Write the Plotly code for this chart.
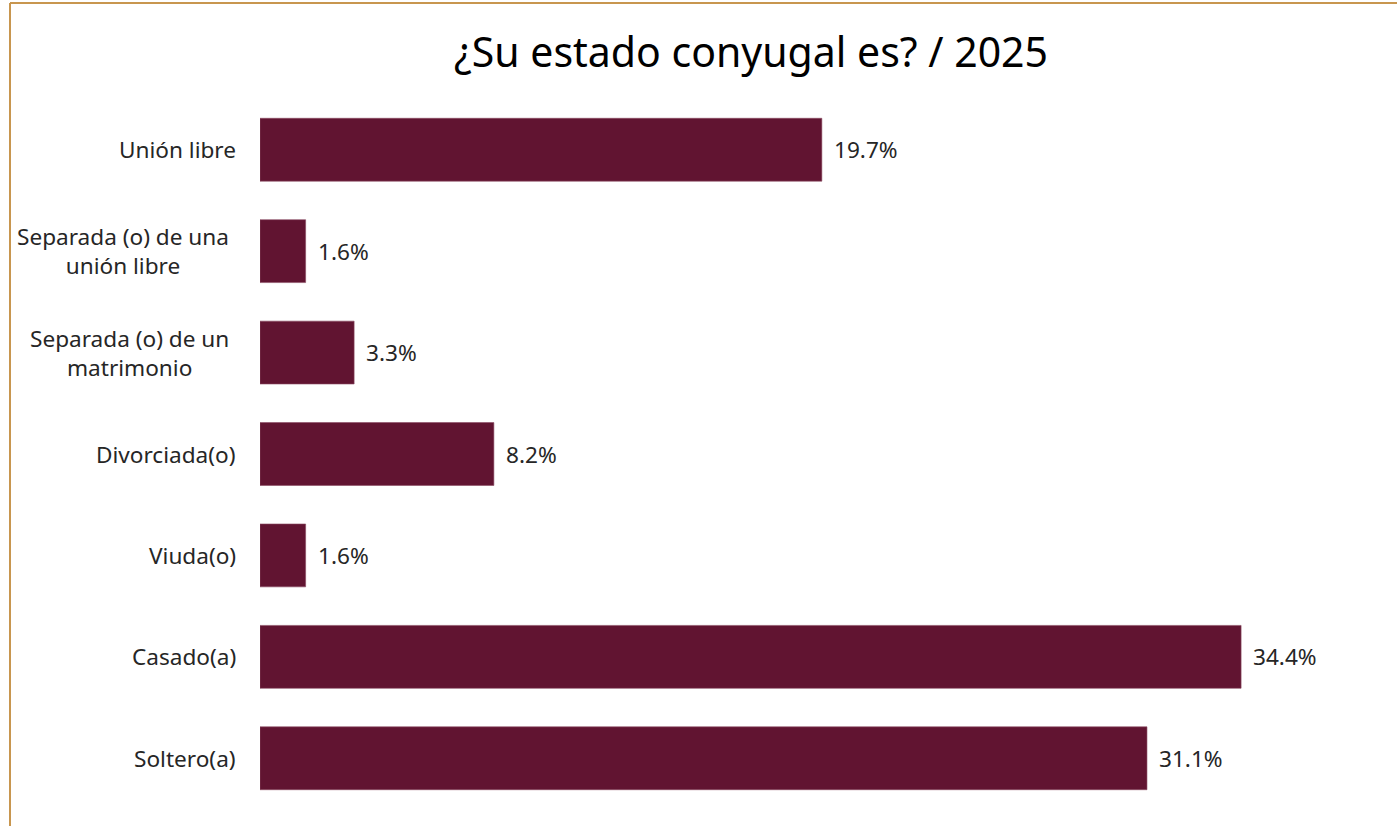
import plotly.graph_objects as go

# Datos (de abajo hacia arriba)
categorias = [
    "Soltero(a)",
    "Casado(a)",
    "Viuda(o)",
    "Divorciada(o)",
    "Separada (o) de un<br>matrimonio",
    "Separada (o) de una<br>unión libre",
    "Unión libre",
]
porcentajes = [31.1, 34.4, 1.6, 8.2, 3.3, 1.6, 19.7]
etiquetas = [f"{v:.1f}%" for v in porcentajes]

W, H = 1397, 826
ML, MR, MT, MB = 260, 100, 99, 17
pw = W - ML - MR
ph = H - MT - MB
FONT = "Noto Sans"
GRIS = "#262626"
TAM = 22.6

fig = go.Figure(go.Bar(
    x=porcentajes,
    y=categorias,
    orientation="h",
    marker=dict(color="#611431", line=dict(color="#8a4a62", width=0.6)),
    hoverinfo="skip",
))

# etiquetas de valor
for cat, val, txt in zip(categorias, porcentajes, etiquetas):
    fig.add_annotation(x=val, y=cat, text=txt, showarrow=False,
                       xanchor="left", xshift=10,
                       font=dict(size=TAM, color=GRIS, family=FONT))

# etiquetas de categoría (centradas)
for cat in categorias:
    desplaz = -29 if "<br>" in cat else -22
    fig.add_annotation(x=0, xref="paper", y=cat, text=cat, showarrow=False,
                       xanchor="right", xshift=desplaz, align="center",
                       font=dict(size=TAM, color=GRIS, family=FONT))

# marco del gráfico (bordes superior e izquierdo)
left_x = (10 - ML) / pw
top_y = (H - MB - 3) / ph
bot_y = (H - MB - H - 5) / ph
right_x = (W + 5 - ML) / pw
fig.add_shape(type="line", xref="paper", yref="paper",
              x0=left_x, x1=right_x, y0=top_y, y1=top_y,
              line=dict(color="#C8964F", width=2))
fig.add_shape(type="line", xref="paper", yref="paper",
              x0=left_x, x1=left_x, y0=bot_y, y1=top_y,
              line=dict(color="#C8964F", width=2))

fig.update_layout(
    width=W, height=H,
    margin=dict(l=ML, r=MR, t=MT, b=MB),
    paper_bgcolor="white",
    plot_bgcolor="white",
    bargap=0.38,
    showlegend=False,
    title=dict(
        text="¿Su estado conyugal es? / 2025",
        x=(751 / W), xanchor="center",
        y=1 - 53 / H, yanchor="middle",
        font=dict(size=41, color="black", family=FONT),
    ),
    xaxis=dict(range=[0, pw / 28.52], visible=False, fixedrange=True),
    yaxis=dict(showticklabels=False, ticks="", showline=False,
               showgrid=False, fixedrange=True),
    font=dict(family=FONT),
)

fig.write_html("out.html", config={"displayModeBar": False},
               post_script="document.body.style.margin='0';")
